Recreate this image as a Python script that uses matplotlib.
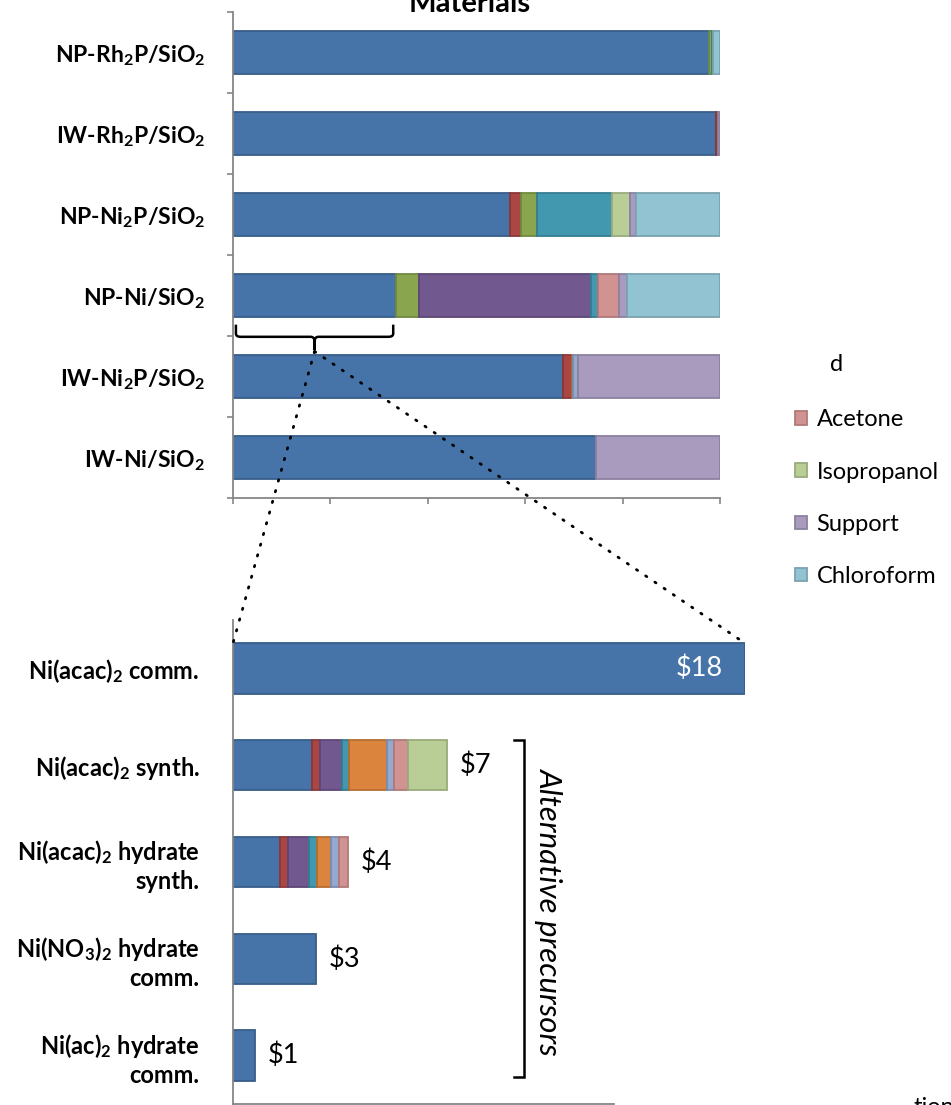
import matplotlib
matplotlib.use("Agg")
import matplotlib.pyplot as plt
import numpy as np
from matplotlib.patches import ConnectionPatch, PathPatch, Patch
from matplotlib.path import Path

plt.rcParams['font.family'] = ['Lato', 'DejaVu Sans']
plt.rcParams['mathtext.fontset'] = 'custom'
plt.rcParams['mathtext.rm'] = 'Lato:bold'
plt.rcParams['mathtext.it'] = 'Lato:bold'
plt.rcParams['mathtext.bf'] = 'Lato:bold'

# ---- materials: cost share per component (percent) ----
materials = [r"NP-Rh$_2$P/SiO$_2$", r"IW-Rh$_2$P/SiO$_2$", r"NP-Ni$_2$P/SiO$_2$",
             r"NP-Ni/SiO$_2$", r"IW-Ni$_2$P/SiO$_2$", r"IW-Ni/SiO$_2$"]
metal_salt  = [97.8, 99.2, 56.9, 33.5, 67.8, 74.5]
reagent_a   = [0.0, 0.4, 2.3, 0.0, 1.8, 0.0]
reagent_b   = [0.6, 0.0, 3.3, 4.7, 0.0, 0.0]
reagent_c   = [0.0, 0.0, 0.0, 35.3, 0.0, 0.0]
reagent_d   = [0.2, 0.0, 15.4, 1.4, 0.0, 0.0]
reagent_e   = [0.0, 0.0, 0.0, 0.0, 0.3, 0.0]
reagent_f   = [0.0, 0.0, 0.0, 0.0, 1.0, 0.0]
acetone     = [0.0, 0.0, 0.0, 4.3, 0.0, 0.0]
isopropanol = [0.0, 0.0, 3.7, 0.0, 0.0, 0.0]
support     = [0.0, 0.4, 1.2, 1.8, 29.1, 25.5]
chloroform  = [1.4, 0.0, 17.2, 19.0, 0.0, 0.0]

# ---- nickel precursors: cost ($) per component ----
precursors = [r"Ni(acac)$_2$ comm.", r"Ni(acac)$_2$ synth.",
              "Ni(acac)$_2$ hydrate\nsynth.", "Ni(NO$_3$)$_2$ hydrate\ncomm.",
              "Ni(ac)$_2$ hydrate\ncomm."]
p_nickel   = [17.6, 2.72, 1.62, 2.85, 0.76]
p_red      = [0.0, 0.27, 0.27, 0.0, 0.0]
p_purple   = [0.0, 0.76, 0.72, 0.0, 0.0]
p_teal     = [0.0, 0.24, 0.27, 0.0, 0.0]
p_orange   = [0.0, 1.31, 0.48, 0.0, 0.0]
p_lblue    = [0.0, 0.24, 0.27, 0.0, 0.0]
p_pink     = [0.0, 0.48, 0.31, 0.0, 0.0]
p_lgreen   = [0.0, 1.34, 0.0, 0.0, 0.0]

# office-style palette: (face, edge)
C = {
    'blue':    ('#4674A8', '#385D8A'),
    'red':     ('#AA4643', '#8C3836'),
    'green':   ('#89A54E', '#71893F'),
    'purple':  ('#71588F', '#5C4776'),
    'teal':    ('#4198AF', '#357D91'),
    'orange':  ('#DB843D', '#B66D31'),
    'lblue':   ('#93A9CF', '#7A8DAF'),
    'pink':    ('#D19392', '#B07978'),
    'lgreen':  ('#B9CD96', '#9AAB7C'),
    'lpurple': ('#A99BBD', '#8C81A0'),
    'lcyan':   ('#92C3D2', '#7AA3B0'),
}

top_series = [
    (None, metal_salt, 'blue'), (None, reagent_a, 'red'), (None, reagent_b, 'green'),
    (None, reagent_c, 'purple'), (None, reagent_d, 'teal'), (None, reagent_e, 'orange'),
    (None, reagent_f, 'lblue'), ('Acetone', acetone, 'pink'),
    ('Isopropanol', isopropanol, 'lgreen'), ('Support', support, 'lpurple'),
    ('Chloroform', chloroform, 'lcyan'),
]
bottom_series = [
    (p_nickel, 'blue'), (p_red, 'red'), (p_purple, 'purple'), (p_teal, 'teal'),
    (p_orange, 'orange'), (p_lblue, 'lblue'), (p_pink, 'pink'), (p_lgreen, 'lgreen'),
]

W, H = 951, 1105
fig = plt.figure(figsize=(W / 100, H / 100), dpi=100)
axis_grey = '#868686'

# ---------------- top chart ----------------
ax1 = fig.add_axes([233 / W, 1 - 498 / H, 487 / W, 486 / H])
y1 = np.arange(len(materials))
left = np.zeros(len(materials))
handles = []
for name, vals, key in top_series:
    face, edge = C[key]
    vals = np.array(vals)
    mask = vals > 0
    ax1.barh(y1[mask], vals[mask], left=left[mask], height=0.52,
             color=face, edgecolor=edge, linewidth=1.3)
    left += vals
    if name:
        handles.append(Patch(facecolor=face, edgecolor=edge, linewidth=1.3, label=name))

ax1.set_xlim(0, 100)
ax1.set_ylim(len(materials) - 0.5, -0.5)
ax1.set_xticks(np.arange(0, 101, 20))
ax1.set_xticklabels([])
ax1.tick_params(axis='x', length=4, width=1.2, color=axis_grey)
ax1.set_yticks(y1)
ax1.set_yticklabels(materials, fontsize=16.5, fontweight='bold')
ax1.tick_params(axis='y', which='major', length=0, pad=20)
ax1.set_yticks(np.arange(len(materials) + 1) - 0.5, minor=True)
ax1.tick_params(axis='y', which='minor', length=4, width=1.2, color=axis_grey)
for s in ['top', 'right']:
    ax1.spines[s].set_visible(False)
for s in ['left', 'bottom']:
    ax1.spines[s].set_color(axis_grey)
    ax1.spines[s].set_linewidth(1.3)

fig.text(470 / W, 1 - 12 / H, 'Materials', ha='center', va='baseline',
         fontsize=21, fontweight='bold')

leg = fig.legend(handles=handles, loc='upper left',
                 bbox_to_anchor=(786 / W, 1 - 400 / H), frameon=False,
                 fontsize=17, handlelength=0.5, handleheight=0.5,
                 handletextpad=0.4, labelspacing=1.32, borderaxespad=0)

fig.text(830 / W, 1 - 371 / H, 'd', fontsize=17, va='baseline')
fig.text(913 / W, 1 - 1114 / H, 'tion', fontsize=17, va='baseline')

# brace under the nickel-salt share of NP-Ni/SiO2
x0, x1 = 0.6, metal_salt[3] - 0.6
xm = (x0 + x1) / 2
yt, yh, yb = 3.36, 3.51, 3.67
verts = [(x0, yt), (x0, yh - 0.04), (x0, yh), (x0 + 1.0, yh),
         (xm - 0.8, yh), (xm, yh), (xm, yh + 0.06), (xm, yb),
         (xm, yh + 0.06), (xm, yh), (xm + 0.8, yh),
         (x1 - 1.0, yh), (x1, yh), (x1, yh - 0.04), (x1, yt)]
codes = [Path.MOVETO, Path.LINETO, Path.CURVE3, Path.CURVE3,
         Path.LINETO, Path.CURVE3, Path.CURVE3, Path.LINETO,
         Path.LINETO, Path.CURVE3, Path.CURVE3,
         Path.LINETO, Path.CURVE3, Path.CURVE3, Path.LINETO]
ax1.add_patch(PathPatch(Path(verts, codes), facecolor='none', edgecolor='black',
                        linewidth=1.8, clip_on=False))

# ---------------- bottom chart ----------------
ax2 = fig.add_axes([233 / W, 1 / H, 512 / W, 484 / H])
y2 = np.arange(len(precursors))
left2 = np.zeros(len(precursors))
for vals, key in bottom_series:
    face, edge = C[key]
    vals = np.array(vals)
    mask = vals > 0
    ax2.barh(y2[mask], vals[mask], left=left2[mask], height=0.52,
             color=face, edgecolor=edge, linewidth=1.3)
    left2 += vals

ax2.set_xlim(0, p_nickel[0])
ax2.set_ylim(len(precursors) - 0.5, -0.5)
ax2.set_xticks([])
ax2.set_yticks(y2)
ax2.set_yticklabels(precursors, fontsize=17, fontweight='bold', linespacing=1.2)
ax2.tick_params(axis='y', length=0, pad=24)
for s in ['top', 'right']:
    ax2.spines[s].set_visible(False)
for s in ['left', 'bottom']:
    ax2.spines[s].set_color(axis_grey)
    ax2.spines[s].set_linewidth(1.3)
ax2.spines['bottom'].set_bounds(0, 13.1)

for i, total in enumerate(left2):
    label = f"${total:.0f}"
    if i == 0:
        ax2.text(total - 0.75, i, label, ha='right', va='center',
                 fontsize=19.5, color='white')
    else:
        ax2.text(total + 0.45, i, label, ha='left', va='center', fontsize=19.5)

# bracket grouping the alternative precursors
bx = 10.0
ax2.plot([bx - 0.35, bx, bx, bx - 0.35], [0.74, 0.74, 4.22, 4.22],
         color='black', linewidth=1.8, solid_joinstyle='miter', clip_on=False)
ax2.text(bx + 0.88, 2.5, 'Alternative precursors', rotation=-90, style='italic',
         fontsize=22.5, ha='center', va='center')

# dotted zoom lines from the brace down to the precursor chart
for xb, yb2 in [(0.0, -0.26), (p_nickel[0], -0.26)]:
    con = ConnectionPatch(xyA=(xm, yb + 0.02), coordsA=ax1.transData,
                          xyB=(xb, yb2), coordsB=ax2.transData,
                          color='black', linewidth=2.0,
                          linestyle=(0, (0.5, 3.5)), capstyle='round')
    fig.add_artist(con)

fig.savefig('out.png', dpi=100)
